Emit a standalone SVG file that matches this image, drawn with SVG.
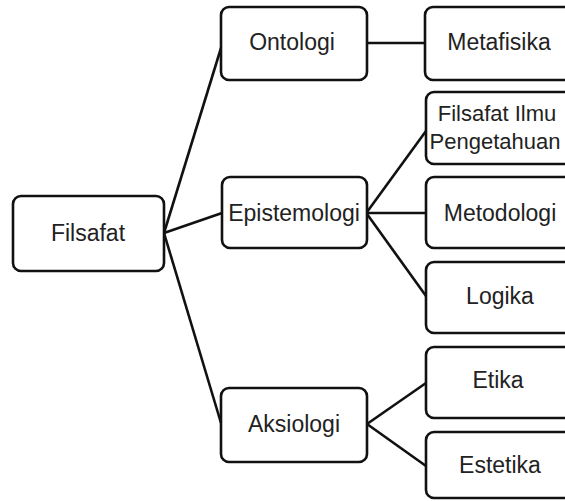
<svg xmlns="http://www.w3.org/2000/svg" width="565" height="501" viewBox="0 0 565 501">
  <style>
    .box { fill: #ffffff; stroke: #111111; stroke-width: 2.6; }
    .lbl { font-family: "Liberation Sans", Arial, sans-serif; font-size: 23px; fill: #222222; text-anchor: middle; }
    .edge { stroke: #111111; stroke-width: 2.6; fill: none; }
  </style>
  <rect width="565" height="501" fill="#ffffff"/>

  <!-- connectors -->
  <g id="connectors">
    <line class="edge" x1="164" y1="233" x2="221" y2="48"/>
    <line class="edge" x1="164" y1="233" x2="222" y2="213"/>
    <line class="edge" x1="164" y1="233" x2="221" y2="423"/>
    <line class="edge" x1="367" y1="43" x2="425" y2="43"/>
    <line class="edge" x1="367" y1="212" x2="426" y2="131"/>
    <line class="edge" x1="367" y1="213" x2="426" y2="213"/>
    <line class="edge" x1="367" y1="214" x2="426" y2="296"/>
    <line class="edge" x1="367" y1="424" x2="426" y2="383"/>
    <line class="edge" x1="367" y1="424" x2="426" y2="466"/>
  </g>

  <!-- root -->
  <g id="filsafat">
    <rect class="box" x="13" y="196" width="151" height="75" rx="8"/>
    <text class="lbl" x="88" y="241">Filsafat</text>
  </g>

  <!-- branches -->
  <g id="ontologi">
    <rect class="box" x="221" y="7" width="146" height="73" rx="8"/>
    <text class="lbl" x="292" y="50">Ontologi</text>
  </g>
  <g id="epistemologi">
    <rect class="box" x="222" y="177" width="145" height="71" rx="8"/>
    <text class="lbl" x="294" y="221">Epistemologi</text>
  </g>
  <g id="aksiologi">
    <rect class="box" x="221" y="388" width="146" height="74" rx="8"/>
    <text class="lbl" x="294" y="432">Aksiologi</text>
  </g>

  <!-- leaves -->
  <g id="metafisika">
    <rect class="box" x="425" y="7" width="148" height="73" rx="8"/>
    <text class="lbl" x="499" y="50">Metafisika</text>
  </g>
  <g id="filsafat-ilmu">
    <rect class="box" x="426" y="92" width="148" height="72" rx="8"/>
    <text class="lbl" x="497" y="121" style="font-size:22px">Filsafat Ilmu</text>
    <text class="lbl" x="495" y="149" style="font-size:22px">Pengetahuan</text>
  </g>
  <g id="metodologi">
    <rect class="box" x="426" y="177" width="148" height="71" rx="8"/>
    <text class="lbl" x="500" y="221">Metodologi</text>
  </g>
  <g id="logika">
    <rect class="box" x="426" y="262" width="148" height="71" rx="8"/>
    <text class="lbl" x="500" y="304">Logika</text>
  </g>
  <g id="etika">
    <rect class="box" x="426" y="347" width="148" height="71" rx="8"/>
    <text class="lbl" x="498" y="388">Etika</text>
  </g>
  <g id="estetika">
    <rect class="box" x="426" y="432" width="148" height="66" rx="8"/>
    <text class="lbl" x="500" y="473">Estetika</text>
  </g>
</svg>
